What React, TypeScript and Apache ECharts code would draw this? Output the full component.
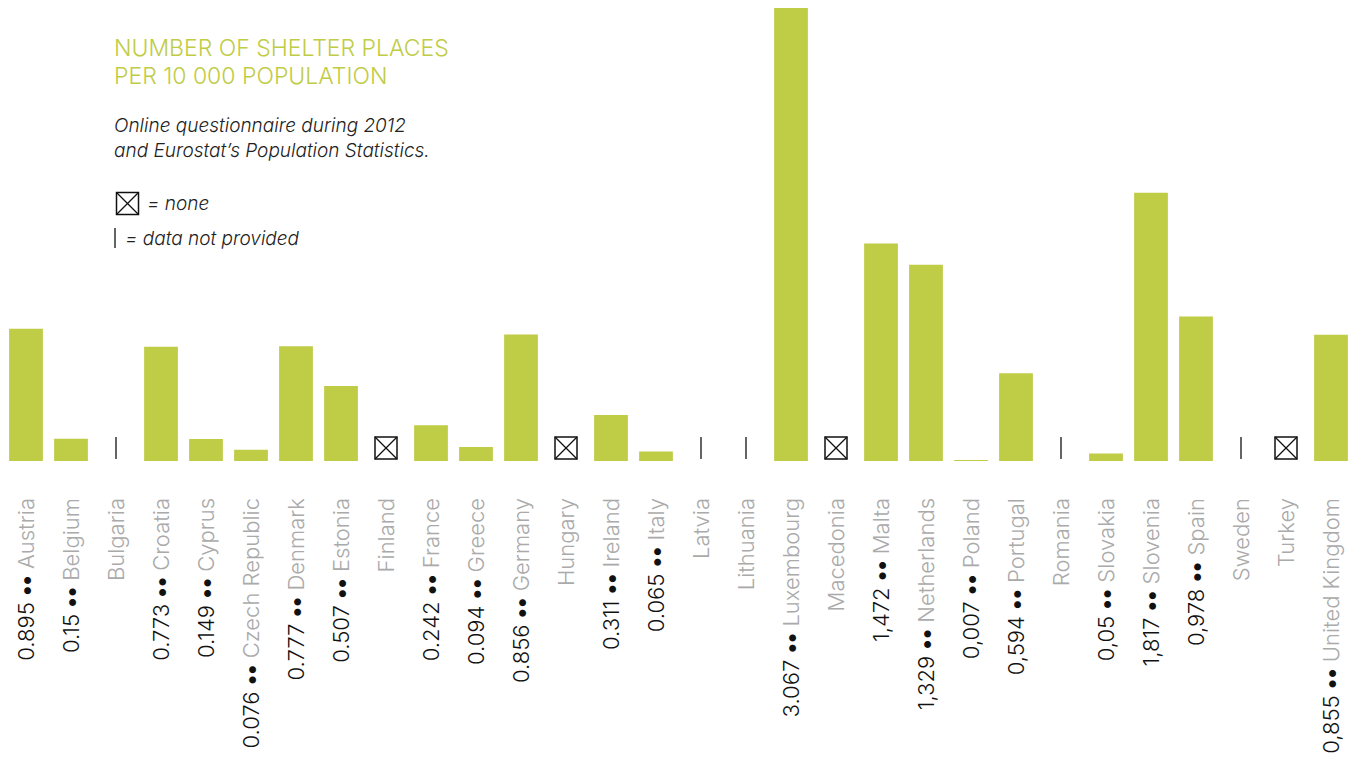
import React, { useEffect, useRef } from "react";
import * as echarts from "echarts";

const categories = [
  "Austria", "Belgium", "Bulgaria", "Croatia", "Cyprus", "Czech Republic", "Denmark", "Estonia",
  "Finland", "France", "Greece", "Germany", "Hungary", "Ireland", "Italy", "Latvia", "Lithuania",
  "Luxembourg", "Macedonia", "Malta", "Netherlands", "Poland", "Portugal", "Romania", "Slovakia",
  "Slovenia", "Spain", "Sweden", "Turkey", "United Kingdom",
];
const values: (number | null)[] = [
  0.895, 0.15, null, 0.773, 0.149, 0.076, 0.777, 0.507,
  null, 0.242, 0.094, 0.856, null, 0.311, 0.065, null, null,
  3.067, null, 1.472, 1.329, 0.007, 0.594, null, 0.05,
  1.817, 0.978, null, null, 0.855,
];
const valueLabels = [
  "0.895", "0.15", "", "0.773", "0.149", "0.076", "0.777", "0.507",
  "", "0.242", "0.094", "0.856", "", "0.311", "0.065", "", "",
  "3.067", "", "1,472", "1,329", "0,007", "0,594", "", "0,05",
  "1,817", "0,978", "", "", "0,855",
];
// "none" = box with cross, "np" = data not provided
const status = [
  "", "", "np", "", "", "", "", "",
  "none", "", "", "", "none", "", "", "np", "np",
  "", "none", "", "", "", "", "np", "",
  "", "", "np", "none", "",
];

const GREEN = "#bfcc45";
const FONT = "Inter, Roboto, sans-serif";

export default function App() {
  const ref = useRef<HTMLDivElement>(null);
  useEffect(() => {
    const chart = echarts.init(ref.current!, null, { renderer: "svg" });
    chart.setOption({
      animation: false,
      backgroundColor: "#ffffff",
      grid: { left: 3.5, width: 1350, top: 8, bottom: 303, containLabel: false },
      xAxis: {
        type: "category",
        data: categories,
        axisLine: { show: false },
        axisTick: { show: false },
        axisLabel: {
          interval: 0,
          rotate: 90,
          margin: 37,
          fontFamily: FONT,
          fontSize: 22,
          fontWeight: 300,
          formatter: (v: string, i: number) =>
            valueLabels[i] ? `{v|${valueLabels[i]} }{d|••}{v| }{n|${v}}` : `{n|${v}}`,
          rich: {
            v: { color: "#111111", fontFamily: FONT, fontSize: 22, fontWeight: 300 },
            d: { color: "#111111", fontFamily: FONT, fontSize: 22, fontWeight: 700 },
            n: { color: "#aaaaaa", fontFamily: FONT, fontSize: 22, fontWeight: 300 },
          },
        },
      },
      yAxis: {
        type: "value",
        min: 0,
        max: 3.067,
        show: false,
        splitLine: { show: false },
      },
      series: [
        {
          type: "bar",
          data: values.map((v) => (v === null ? "-" : v)),
          barCategoryGap: "25%",
          itemStyle: { color: GREEN },
        },
        {
          type: "custom",
          data: categories.map((c, i) => [i, status[i]]),
          renderItem: (params: any, api: any) => {
            const idx = api.value(0);
            const s = status[idx];
            const p = api.coord([idx, 0]);
            if (s === "none") {
              const x0 = p[0] - 11, y0 = p[1] - 24, w = 22, h = 22;
              const st = { stroke: "#111", lineWidth: 1.3, fill: null };
              return {
                type: "group",
                children: [
                  { type: "rect", shape: { x: x0, y: y0, width: w, height: h }, style: { stroke: "#111", lineWidth: 1.5, fill: "#fff" } },
                  { type: "line", shape: { x1: x0, y1: y0, x2: x0 + w, y2: y0 + h }, style: st },
                  { type: "line", shape: { x1: x0 + w, y1: y0, x2: x0, y2: y0 + h }, style: st },
                ],
              };
            }
            if (s === "np") {
              return {
                type: "line",
                shape: { x1: p[0], y1: p[1] - 24, x2: p[0], y2: p[1] - 2 },
                style: { stroke: "#111", lineWidth: 1.3 },
              };
            }
            return null;
          },
        },
      ],
      graphic: [
        {
          type: "text",
          left: 114,
          top: 34,
          style: {
            text: "NUMBER OF SHELTER PLACES\nPER 10 000 POPULATION",
            fill: GREEN,
            font: `300 23px ${FONT}`,
            lineHeight: 28,
          },
        },
        {
          type: "text",
          left: 114,
          top: 113,
          style: {
            text: "Online questionnaire during 2012\nand Eurostat’s Population Statistics.",
            fill: "#222",
            font: `italic 300 19px ${FONT}`,
            lineHeight: 25,
          },
        },
        {
          type: "group",
          left: 114,
          top: 190,
          children: [
            { type: "rect", shape: { x: 0, y: 0, width: 22, height: 22 }, style: { stroke: "#111", lineWidth: 1.5, fill: "#fff" } },
            { type: "line", shape: { x1: 0, y1: 0, x2: 22, y2: 22 }, style: { stroke: "#111", lineWidth: 1.3 } },
            { type: "line", shape: { x1: 22, y1: 0, x2: 0, y2: 22 }, style: { stroke: "#111", lineWidth: 1.3 } },
          ],
        },
        {
          type: "text",
          left: 147,
          top: 194,
          style: { text: "= none", fill: "#222", font: `italic 300 19px ${FONT}` },
        },
        {
          type: "line",
          shape: { x1: 115, y1: 228, x2: 115, y2: 248 },
          style: { stroke: "#111", lineWidth: 1.3 },
        },
        {
          type: "text",
          left: 125,
          top: 229,
          style: { text: "= data not provided", fill: "#222", font: `italic 300 19px ${FONT}` },
        },
      ],
    });
    return () => chart.dispose();
  }, []);
  return (
    <div
      ref={ref}
      style={{ position: "fixed", left: 0, top: 0, width: 1357, height: 764 }}
    />
  );
}
